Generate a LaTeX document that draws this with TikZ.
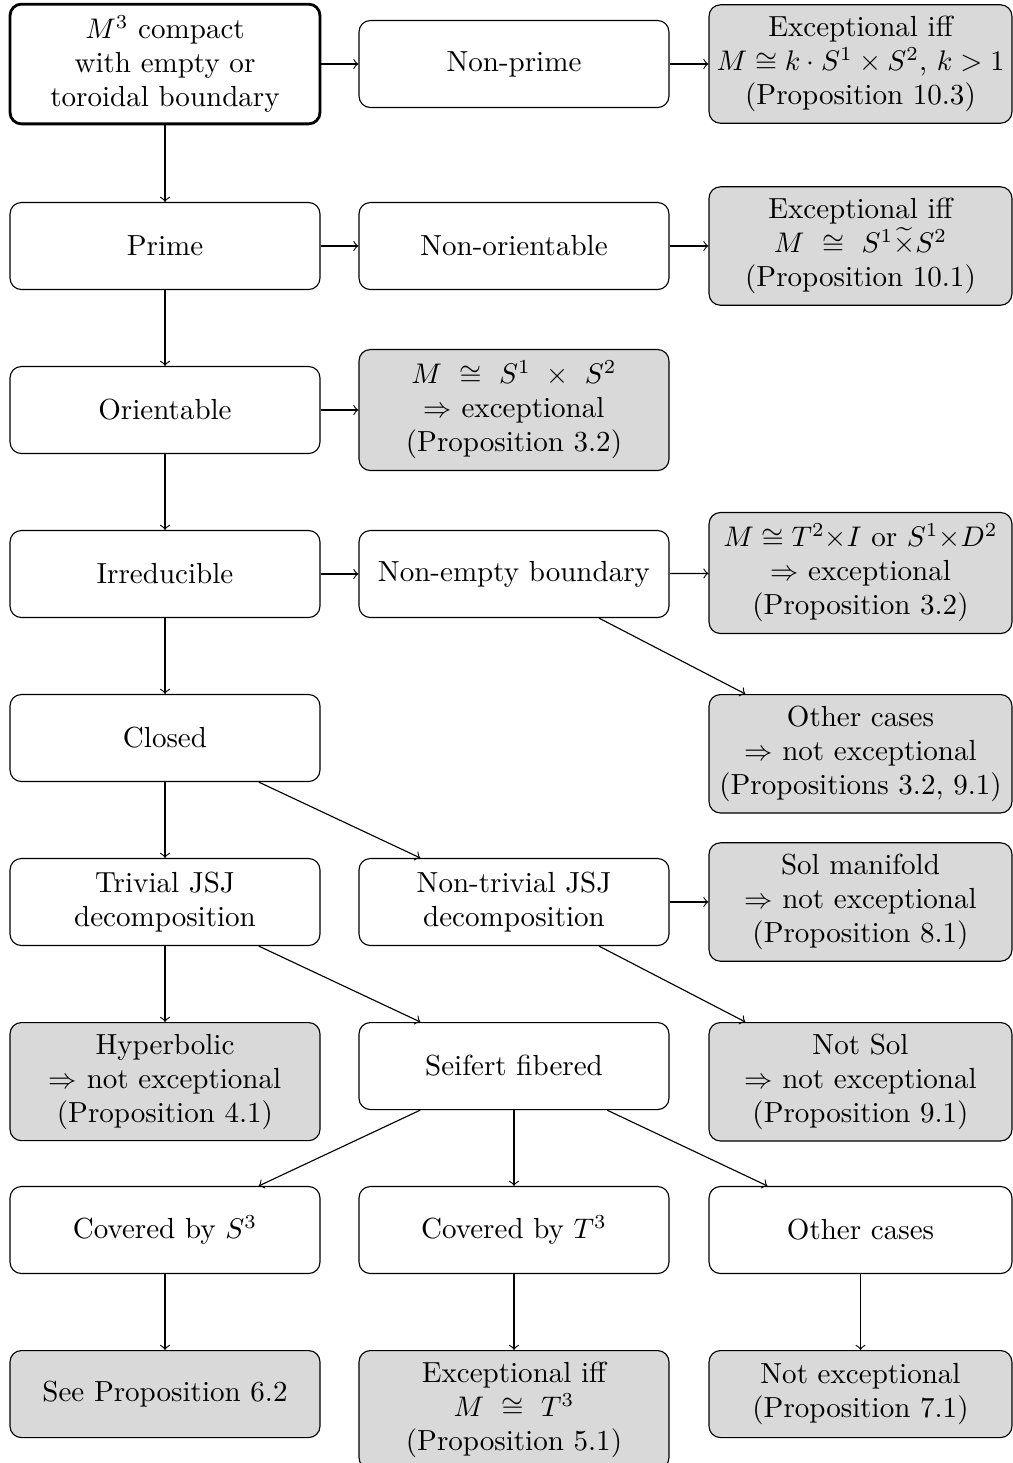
\documentclass[tikz,border=0pt]{standalone}
\usepackage{amsmath,amssymb}
\begin{document}
\begin{tikzpicture}[x=0.35294pt,y=-0.35294pt,
  box/.style={draw, rounded corners=4pt, align=center, minimum width=109.4pt, minimum height=30.7pt,
    inner ysep=4pt, font=\fontsize{10.25pt}{12pt}\selectfont},
  rbox/.style={box, minimum width=106.9pt, inner xsep=1pt},
  res/.style={fill=gray!30},
  startbox/.style={box, line width=1pt},
  arr/.style={->}]
\useasboundingbox (0,0) rectangle (1013,1463);
% row 1
\node[startbox] (start) at (165,64) {$M^3$ compact\\with empty or\\toroidal boundary};
\node[box] (nonprime) at (514,64) {Non-prime};
\node[rbox,res] (r1) at (860.5,64) {Exceptional iff\\$M \cong k\cdot S^1\times S^2$, $k>1$\\(Proposition 10.3)};
% row 2
\node[box] (prime) at (165,246) {Prime};
\node[box] (nonor) at (514,246) {Non-orientable};
\node[rbox,res] (r2) at (860.5,246) {Exceptional iff\\$M\ \cong\ S^1\widetilde{\times}S^2$\\(Proposition 10.1)};
% row 3
\node[box] (orient) at (165,410) {Orientable};
\node[box,res] (m3) at (514,410) {$M\ \cong\ S^1\ \times\ S^2$\\$\Rightarrow$ exceptional\\(Proposition 3.2)};
% row 4
\node[box] (irred) at (165,574) {Irreducible};
\node[box] (nonempty) at (514,574) {Non-empty boundary};
\node[rbox,res] (r4) at (860.5,573) {$M \cong T^2{\times}I$ or $S^1{\times}D^2$\\$\Rightarrow$ exceptional\\(Proposition 3.2)};
% row 5
\node[box] (closed) at (165,738) {Closed};
\node[rbox,res,anchor=north] (r5) at (860.5,694) {Other cases\\$\Rightarrow$ not exceptional\\(Propositions 3.2, 9.1)};
% row 6
\node[box] (triv) at (165,902) {Trivial JSJ\\decomposition};
\node[box] (nontriv) at (514,902) {Non-trivial JSJ\\decomposition};
\node[rbox,res] (sol) at (860.5,902) {Sol manifold\\$\Rightarrow$ not exceptional\\(Proposition 8.1)};
% row 7
\node[box,res,anchor=north] (hyp) at (165,1022) {Hyperbolic\\$\Rightarrow$ not exceptional\\(Proposition 4.1)};
\node[box,anchor=north] (seif) at (514,1022) {Seifert fibered};
\node[rbox,res,anchor=north] (notsol) at (860.5,1022) {Not Sol\\$\Rightarrow$ not exceptional\\(Proposition 9.1)};
% row 8
\node[box] (cs3) at (165,1230) {Covered by $S^3$};
\node[box] (ct3) at (514,1230) {Covered by $T^3$};
\node[rbox] (oth) at (860.5,1230) {Other cases};
% row 9
\node[box,res,anchor=north] (p62) at (165,1350) {See Proposition 6.2};
\node[box,res,anchor=north] (p51) at (514,1350) {Exceptional iff\\$M\ \cong\ T^3$\\(Proposition 5.1)};
\node[rbox,res,anchor=north] (p71) at (860.5,1350) {Not exceptional\\(Proposition 7.1)};
% arrows
\draw[arr] (start) -- (nonprime);
\draw[arr] (nonprime) -- (r1);
\draw[arr] (start) -- (prime);
\draw[arr] (prime) -- (nonor);
\draw[arr] (nonor) -- (r2);
\draw[arr] (prime) -- (orient);
\draw[arr] (orient) -- (m3);
\draw[arr] (orient) -- (irred);
\draw[arr] (irred) -- (nonempty);
\draw[arr] (nonempty) -- (r4);
\draw[arr] (nonempty) -- (r5);
\draw[arr] (irred) -- (closed);
\draw[arr] (closed) -- (triv);
\draw[arr] (closed) -- (nontriv);
\draw[arr] (nontriv) -- (sol);
\draw[arr] (nontriv) -- (notsol);
\draw[arr] (triv) -- (hyp);
\draw[arr] (triv) -- (seif);
\draw[arr] (seif) -- (cs3);
\draw[arr] (seif) -- (ct3);
\draw[arr] (seif) -- (oth);
\draw[arr] (cs3) -- (p62);
\draw[arr] (ct3) -- (p51);
\draw[arr] (oth) -- (p71);
\end{tikzpicture}
\end{document}
